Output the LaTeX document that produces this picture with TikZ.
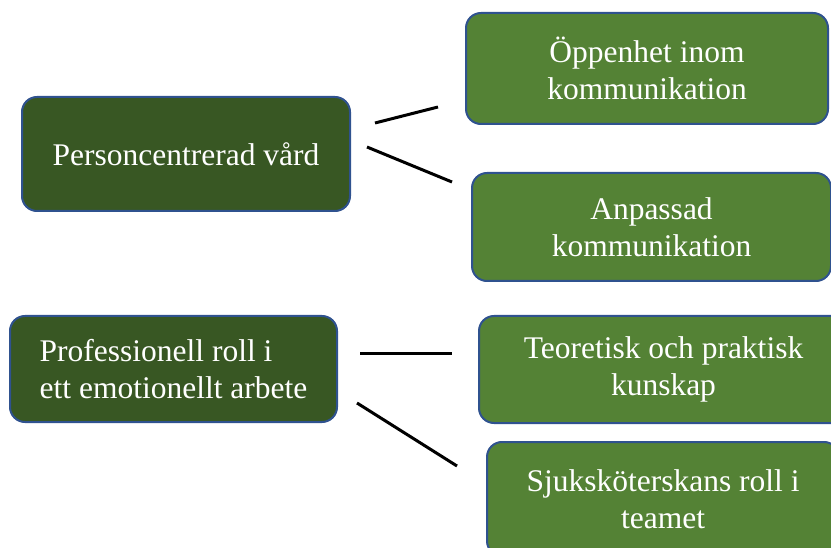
\documentclass[tikz,border=0pt]{standalone}
\usepackage{fontspec}
\setmainfont{Liberation Serif}
\definecolor{darkgreen}{HTML}{385723}
\definecolor{lightgreen}{HTML}{548235}
\definecolor{boxblue}{HTML}{2F528F}
\tikzset{
  topic/.style={draw=boxblue,line width=2pt,rounded corners=15pt,
                text=white,align=center,inner sep=0pt,
                font=\fontsize{31.5}{36.5}\selectfont},
  main topic/.style={topic,fill=darkgreen},
  sub topic/.style={topic,fill=lightgreen},
  link/.style={line width=3pt,black}}

\begin{document}
\begin{tikzpicture}[x=1pt,y=-1pt]
  \useasboundingbox (0,0) rectangle (831,548);
  \clip (0,0) rectangle (831,548);

  % MAIN TOPICS
  \node[main topic,minimum width=328,minimum height=114] (pcv) at (186,154)
    {Personcentrerad vård};
  \node[main topic,minimum width=327,minimum height=106,align=left] (prof) at (173.5,369)
    {Professionell roll i\\ett emotionellt arbete};

  % SUB TOPICS
  \node[sub topic,minimum width=362,minimum height=111] (open) at (647,68.5)
    {Öppenhet inom\\kommunikation};
  \node[sub topic,minimum width=359,minimum height=108] (adapt) at (651.5,227)
    {Anpassad\\kommunikation};
  \node[sub topic,minimum width=369,minimum height=107] (theory) at (663.5,369.5)
    {Teoretisk och praktisk\\kunskap};
  \node[sub topic,minimum width=352,minimum height=114] (team) at (663,499)
    {Sjuksköterskans roll i\\teamet};

  % LINKS
  \coordinate (pcv a)  at (375,123);
  \coordinate (open a) at (438,107);
  \coordinate (pcv b)  at (367,147);
  \coordinate (adapt a) at (452,182);
  \coordinate (prof a) at (360,354);
  \coordinate (theory a) at (452,354);
  \coordinate (prof b) at (357,403);
  \coordinate (team a) at (457,466);
  \draw[link] (pcv a) -- (open a);   % to openness
  \draw[link] (pcv b) -- (adapt a);  % to adapted
  \draw[link] (prof a) -- (theory a); % to knowledge
  \draw[link] (prof b) -- (team a);  % to team role
\end{tikzpicture}
\end{document}
